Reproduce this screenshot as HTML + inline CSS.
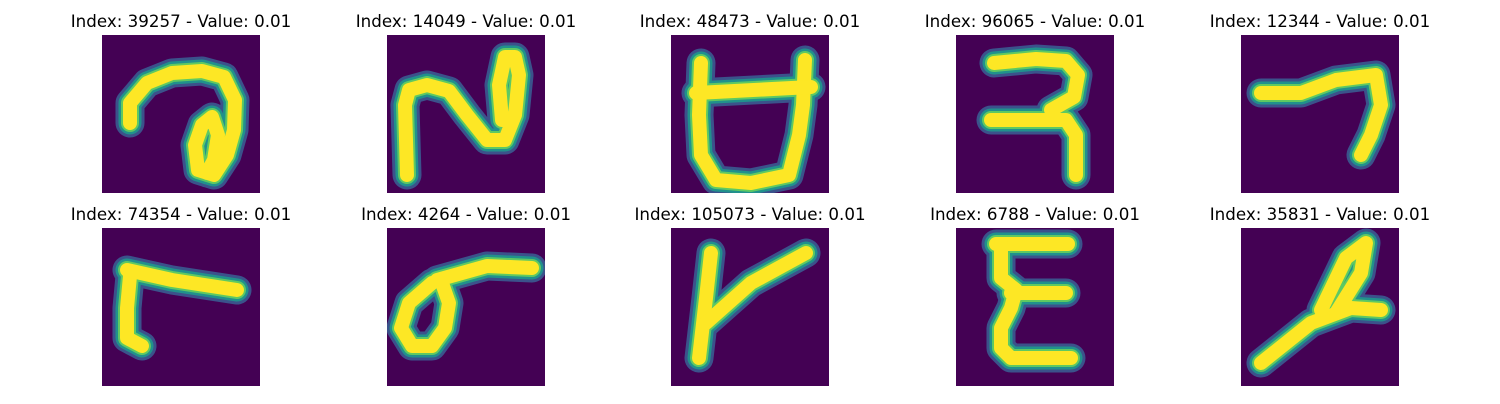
<!DOCTYPE html>
<html><head><meta charset="utf-8"><style>
body{margin:0;background:#fff;width:1500px;height:400px;overflow:hidden;font-family:"DejaVu Sans","Liberation Sans",sans-serif}
</style></head><body>
<svg id="fig" width="1500" height="400" xmlns="http://www.w3.org/2000/svg"></svg>
<script>
const indices=[39257,14049,48473,96065,12344,74354,4264,105073,6788,35831];
const values=[0.01,0.01,0.01,0.01,0.01,0.01,0.01,0.01,0.01,0.01];
const strokes=[
 [[[28,88],[28,68],[45,48],[70,38],[100,36],[122,42],[133,65],[132,95],[125,120],[112,140],[96,135],[93,110],[100,90],[110,82],[116,100],[112,125],[105,138]]],
 [[[20,140],[18,70],[22,55],[40,50],[62,56],[80,80],[100,105],[118,105],[128,80],[132,40],[128,22],[118,22],[112,50],[115,85]]],
 [[[30,28],[28,80],[30,120],[45,145],[80,148],[118,140],[128,100],[132,70],[134,25]],[[25,58],[140,52]]],
 [[[38,28],[80,24],[110,26],[122,40],[118,62],[95,75]],[[35,85],[110,85],[120,100],[120,140]]],
 [[[20,58],[60,58],[95,45],[135,40],[140,70],[130,100],[120,120]]],
 [[[28,48],[25,80],[25,110],[40,118]],[[25,42],[70,52],[135,62]]],
 [[[50,52],[100,38],[145,40]],[[45,55],[22,75],[14,100],[25,118],[45,118],[58,100],[62,75],[55,55]]],
 [[[40,25],[35,70],[28,130]],[[35,95],[80,55],[135,25]]],
 [[[40,16],[112,16]],[[45,16],[45,50],[60,62],[55,80],[45,100],[45,120],[55,130],[115,130]],[[55,65],[110,65]]],
 [[[20,135],[70,95],[110,80],[140,82]],[[80,82],[105,30],[125,15],[120,45],[95,85]]]
];
const NS="http://www.w3.org/2000/svg";
const svg=document.getElementById('fig');
const colX=[102,387,671,956,1241], rowY=[35,228], S=158;
function mk(t,a){const e=document.createElementNS(NS,t);for(const k in a)e.setAttribute(k,a[k]);return e;}
indices.forEach((idx,i)=>{
 const x=colX[i%5], y=rowY[Math.floor(i/5)];
 const g=mk('g',{transform:`translate(${x},${y})`});
 
 
 const cp=mk('clipPath',{id:'c'+i});cp.appendChild(mk('rect',{x:0,y:0,width:S,height:S}));g.appendChild(cp);
 const bg=mk('rect',{x:0,y:0,width:S,height:S,fill:'#440154'});
 
 
 g.appendChild(bg);
 const inner=mk('g',{'clip-path':`url(#c${i})`});
 [['#3b528b',29],['#21918c',23],['#5ec962',18],['#fde725',14]].forEach(([c,w])=>{
  strokes[i].forEach(s=>{
   const p=mk('polyline',{points:s.map(q=>q.join(',')).join(' '),fill:'none',stroke:c,'stroke-width':w,'stroke-linecap':'round','stroke-linejoin':'round'});
   
   
   inner.appendChild(p);
  });
 });
 g.appendChild(inner);
 const t=mk('text',{x:S/2,y:-8,'text-anchor':'middle','font-size':16.7,fill:'#000'});
 t.textContent=`Index: ${idx} - Value: ${values[i].toFixed(2)}`;
 
 
 g.appendChild(t);
 svg.appendChild(g);
});
</script>
</body></html>
